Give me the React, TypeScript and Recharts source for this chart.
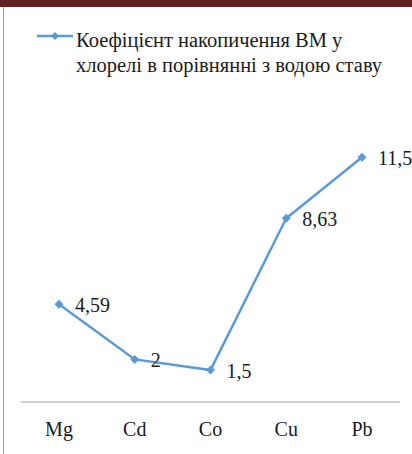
import { LineChart, Line, XAxis, YAxis, Legend, LabelList } from "recharts";

const elements = ["Mg", "Cd", "Co", "Cu", "Pb"];
const coefficients = [4.59, 2, 1.5, 8.63, 11.5];
const valueLabels = ["4,59", "2", "1,5", "8,63", "11,5"];
const legendLines = ["Коефіцієнт накопичення ВМ у", "хлорелі в порівнянні з водою ставу"];

const data = elements.map((el, i) => ({ el, k: coefficients[i], label: valueLabels[i] }));

const BLUE = "#5b9bd5";
const FONT = "Liberation Serif, Times New Roman, serif";

const Diamond = (props: any) => {
  const { cx, cy } = props;
  if (cx == null || cy == null) return null;
  const r = 4.5;
  return <polygon points={`${cx},${cy - r} ${cx + r},${cy} ${cx},${cy + r} ${cx - r},${cy}`} fill={BLUE} />;
};

const ValueLabel = (props: any) => {
  const { x, y, value } = props;
  return (
    <text x={x + 16} y={y + 8} style={{ fontFamily: FONT, fontSize: 20 }} fill="#1a1a1a">
      {value}
    </text>
  );
};

const LegendBox = () => (
  <div style={{ position: "relative", fontFamily: FONT, fontSize: 20.5, lineHeight: "25px", color: "#1a1a1a" }}>
    <svg width={40} height={10} style={{ position: "absolute", left: 0, top: 3 }}>
      <line x1={0} y1={5} x2={36} y2={5} stroke={BLUE} strokeWidth={2.5} />
      <polygon points="18,1 22,5 18,9 14,5" fill={BLUE} />
    </svg>
    <div style={{ paddingLeft: 39, whiteSpace: "nowrap" }}>
      {legendLines.map((l) => (
        <div key={l}>{l}</div>
      ))}
    </div>
  </div>
);

export default function App() {
  return (
    <div style={{ position: "absolute", left: 0, top: 0, width: 412, height: 454, background: "#fff", overflow: "hidden" }}>
      <div style={{ position: "absolute", left: 0, top: 0, width: 412, height: 7, background: "#5f2121" }} />
      <div style={{ position: "absolute", left: 3, top: 7, width: 1, height: 447, background: "#9a9a9a" }} />
      <LineChart width={412} height={454} data={data} margin={{ top: 104, right: 12, bottom: 0, left: 21 }}>
        <XAxis
          dataKey="el"
          height={52}
          padding={{ left: 38, right: 38 }}
          axisLine={{ stroke: "#a6a6a6", strokeWidth: 1 }}
          tickLine={false}
          tickMargin={14}
          tick={{ fill: "#1a1a1a", fontSize: 20, style: { fontFamily: FONT } }}
        />
        <YAxis hide domain={[0, 14]} />
        <Legend
          verticalAlign="middle"
          content={() => <LegendBox />}
          wrapperStyle={{ position: "absolute", top: 28, left: 37, width: 375 }}
        />
        <Line
          type="linear"
          dataKey="k"
          stroke={BLUE}
          strokeWidth={2.5}
          dot={<Diamond />}
          activeDot={false}
          isAnimationActive={false}
        >
          <LabelList dataKey="label" content={<ValueLabel />} />
        </Line>
      </LineChart>
    </div>
  );
}
